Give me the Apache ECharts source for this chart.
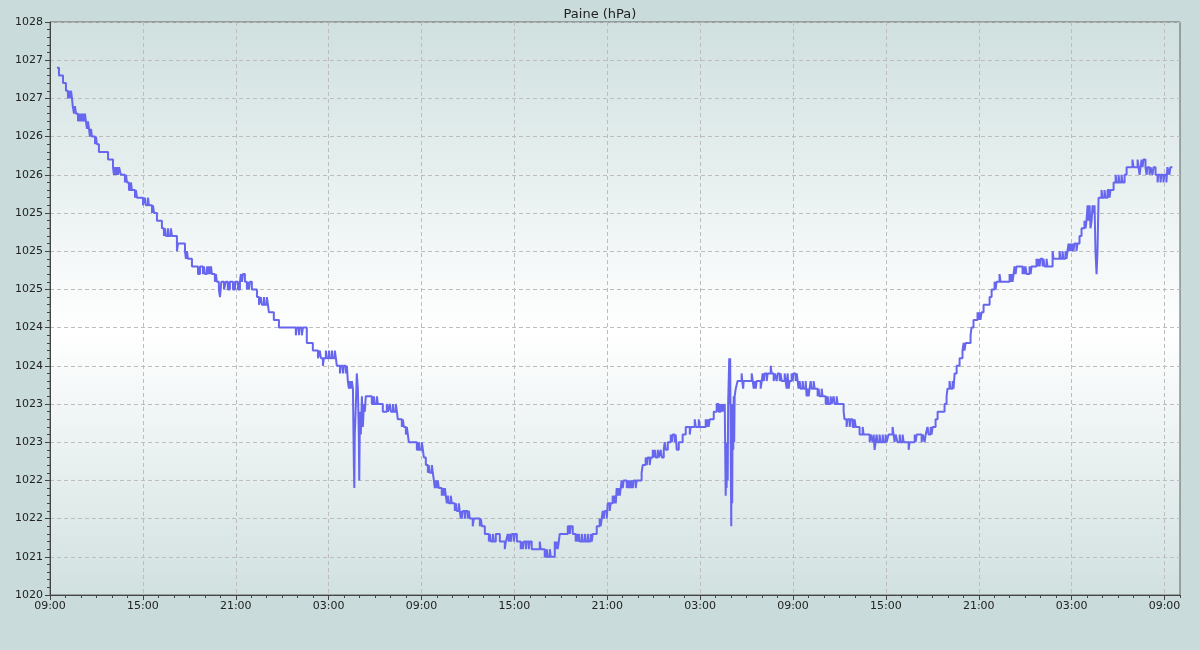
<!DOCTYPE html>
<html><head><meta charset="utf-8">
<script src="https://cdn.jsdelivr.net/npm/echarts@6/dist/echarts.min.js"></script>
<style>html,body{margin:0;padding:0;background:#c9dcdb}#c{width:1200px;height:650px}</style>
</head><body><div id="c"></div>
<script>
// Hours since 09:00 of the first day
const hours = [
0.45,0.58,0.84,1.03,1.16,1.23,1.29,1.36,1.42,1.47,1.55,1.61,1.68,1.81,1.87,1.94,2.00,2.07,2.13,2.20,2.26,2.32,2.39,2.45,2.52,2.58,2.65,2.71,2.91,2.97,3.03,3.16,3.75,4.07,4.13,4.20,4.26,4.33,4.39,4.46,4.58,4.84,4.91,4.97,5.10,5.23,5.29,5.49,5.55,5.62,6.01,6.13,6.20,6.33,6.39,6.59,6.65,6.72,6.91,7.23,7.36,7.43,7.49,7.62,7.68,7.81,7.88,8.20,8.27,8.72,8.78,8.85,8.91,9.17,9.56,9.69,9.88,9.94,10.01,10.14,10.20,10.27,10.33,10.40,10.46,10.65,10.72,10.78,10.91,10.98,11.07,11.24,11.36,11.49,11.62,11.82,11.95,12.14,12.27,12.33,12.40,12.46,12.59,12.72,12.79,12.85,12.91,13.04,13.37,13.50,13.62,13.69,13.82,13.88,14.01,14.08,14.14,14.46,14.79,
15.88,15.95,16.08,16.14,16.27,16.34,16.59,16.98,17.31,17.43,17.50,17.63,17.69,17.82,17.89,18.02,18.08,18.21,18.27,18.40,18.47,18.53,18.73,18.79,18.92,18.98,19.11,19.18,19.24,19.31,19.37,19.44,19.50,19.57,19.63,19.66,19.69,19.76,19.82,19.89,19.95,19.98,20.02,20.08,20.15,20.21,20.28,20.34,20.40,20.79,20.92,20.99,21.12,21.18,21.50,21.76,21.83,21.95,22.02,22.15,22.21,22.34,22.41,22.47,22.73,22.79,22.86,22.99,23.05,23.12,23.18,23.70,23.83,23.89,24.02,24.09,24.15,24.28,24.41,24.47,24.54,24.67,24.73,24.80,24.86,24.93,24.99,25.05,25.12,25.31,25.38,25.44,25.51,25.57,25.64,25.70,25.76,25.89,25.96,26.15,26.22,26.28,26.41,26.47,26.54,26.57,26.60,26.67,26.80,26.86,26.99,27.06,27.12,27.31,27.38,27.77,27.83,27.90,28.09,28.35,28.41,28.48,28.61,28.67,28.80,29.06,29.38,29.45,29.57,29.64,29.70,29.77,29.83,29.96,30.03,30.16,30.41,30.48,30.54,30.61,30.74,30.80,30.93,30.99,31.12,31.64,31.70,31.96,32.09,32.16,32.29,32.35,32.61,32.67,32.74,32.80,32.87,32.93,33.45,33.58,33.64,33.77,33.96,34.03,34.09,34.16,34.22,34.35,34.42,34.55,34.61,34.74,34.80,34.93,35.00,35.06,35.32,35.51,35.58,35.64,35.71,35.77,35.84,35.97,36.03,36.16,36.22,36.35,36.42,36.48,36.55,36.61,36.68,36.74,36.81,36.87,36.93,37.00,37.06,37.26,37.32,37.39,37.45,37.52,37.58,37.65,37.71,37.84,37.90,38.22,38.29,38.48,38.55,38.61,38.74,38.81,38.94,39.00,39.07,39.13,39.26,39.33,39.45,39.52,39.65,39.71,39.78,39.91,40.10,40.17,40.23,40.36,40.42,40.49,40.62,40.87,41.07,41.33,41.39,41.65,41.72,41.91,41.97,42.36,42.43,42.49,42.55,42.62,42.88,43.07,43.20,43.33,43.39,43.46,43.52,43.59,43.65,43.68,43.71,43.75,43.78,43.81,43.88,43.91,43.94,44.01,44.04,44.07,44.10,44.14,44.17,44.20,44.23,44.30,44.42,44.68,44.72,44.78,44.81,45.33,45.40,45.46,45.52,45.59,45.65,45.91,45.98,46.04,46.11,46.17,46.30,46.36,46.56,46.62,46.75,46.82,46.94,47.01,47.14,47.20,47.27,47.46,47.52,47.59,47.65,47.72,47.78,47.91,47.97,48.04,48.17,48.24,48.36,48.43,48.49,48.62,48.69,48.82,48.88,48.95,49.01,49.07,49.14,49.20,49.33,49.40,49.59,49.65,49.72,49.85,49.91,50.11,50.24,50.30,50.43,50.50,50.62,50.69,50.82,50.88,51.27,51.33,51.46,51.53,51.66,51.72,51.85,51.98,52.05,52.30,52.50,52.56,52.95,53.02,53.14,53.21,53.27,53.34,53.40,53.46,53.59,53.66,53.79,53.85,53.98,54.05,54.17,54.43,54.50,54.56,54.63,54.75,54.89,54.95,55.08,55.15,55.47,55.53,55.86,55.92,55.99,56.31,56.38,56.50,56.57,56.69,56.76,56.89,56.95,57.02,57.21,57.34,57.79,57.92,57.98,58.11,58.18,58.31,58.37,58.44,58.57,58.76,58.95,59.02,59.08,59.15,59.47,59.53,59.66,59.92,59.98,60.05,60.11,60.18,60.31,60.70,60.83,61.02,61.09,61.15,61.34,61.41,61.99,62.05,62.12,62.18,62.25,62.31,62.38,62.44,62.83,62.89,62.96,63.02,63.09,63.28,63.35,63.41,63.73,63.80,63.86,63.93,63.99,64.12,64.18,64.25,64.38,64.44,64.77,64.83,65.22,65.28,65.41,65.47,65.60,65.67,65.73,65.80,65.86,65.93,65.99,66.05,66.12,66.18,66.31,66.38,66.51,66.64,66.83,66.90,66.96,67.03,67.09,67.16,67.22,67.29,67.35,67.41,67.48,67.54,67.61,67.67,67.74,67.93,67.99,68.12,68.19,68.32,68.45,68.51,68.71,68.84,68.90,69.03,69.09,69.22,69.29,69.42,69.55,69.93,70.00,70.26,70.32,70.39,70.45,70.52,70.58,70.64,70.77,70.84,70.90,71.03,71.10,71.22,71.29,71.42,71.55,71.61,71.74,71.80,71.93,71.99,72.12,72.19,72.31,72.38,72.51
];
// Pressure readings (hPa)
const pressure = [
1027.4,1027.3,1027.2,1027.1,1027.0,1027.1,1027.0,1027.1,1027.0,1026.9,1026.8,1026.9,1026.8,1026.7,1026.8,1026.7,1026.8,1026.7,1026.8,1026.7,1026.8,1026.7,1026.6,1026.7,1026.6,1026.5,1026.6,1026.5,1026.4,1026.5,1026.4,1026.3,1026.2,1026.1,1026.0,1026.1,1026.0,1026.1,1026.0,1026.1,1026.0,1025.9,1026.0,1025.9,1025.8,1025.9,1025.8,1025.7,1025.8,1025.7,1025.6,1025.7,1025.6,1025.7,1025.6,1025.5,1025.6,1025.5,1025.4,1025.3,1025.2,1025.3,1025.2,1025.3,1025.2,1025.3,1025.2,1025.0,1025.1,1025.0,1024.9,1025.0,1024.9,1024.8,1024.7,1024.8,1024.7,1024.8,1024.7,1024.8,1024.7,1024.8,1024.7,1024.8,1024.7,1024.6,1024.7,1024.6,1024.5,1024.4,1024.6,1024.5,1024.6,1024.5,1024.6,1024.5,1024.6,1024.5,1024.6,1024.7,1024.6,1024.7,1024.6,1024.5,1024.6,1024.5,1024.6,1024.5,1024.4,1024.3,1024.4,1024.3,1024.4,1024.3,1024.4,1024.3,1024.2,1024.1,1024.0,
1023.9,1024.0,1023.9,1024.0,1023.9,1024.0,1023.8,1023.7,1023.6,1023.7,1023.6,1023.5,1023.6,1023.7,1023.6,1023.7,1023.6,1023.7,1023.6,1023.7,1023.6,1023.5,1023.4,1023.5,1023.4,1023.5,1023.4,1023.5,1023.3,1023.2,1023.3,1023.2,1023.3,1023.2,1022.2,1021.9,1022.6,1023.0,1023.4,1023.2,1022.6,1022.0,1022.9,1022.6,1023.1,1022.7,1023.0,1022.9,1023.1,1023.0,1023.1,1023.0,1023.1,1023.0,1022.9,1023.0,1022.9,1023.0,1022.9,1023.0,1022.9,1023.0,1022.9,1022.8,1022.7,1022.8,1022.7,1022.6,1022.7,1022.6,1022.5,1022.4,1022.5,1022.4,1022.5,1022.4,1022.3,1022.2,1022.1,1022.2,1022.1,1022.2,1022.1,1022.0,1021.9,1022.0,1021.9,1022.0,1021.9,1021.8,1021.9,1021.8,1021.9,1021.8,1021.7,1021.8,1021.7,1021.8,1021.7,1021.6,1021.7,1021.6,1021.7,1021.6,1021.5,1021.6,1021.5,1021.6,1021.5,1021.6,1021.5,1021.6,1021.5,1021.4,1021.5,1021.4,1021.5,1021.4,1021.3,1021.2,1021.3,1021.2,1021.3,1021.2,1021.3,1021.2,1021.1,1021.2,1021.3,1021.2,1021.3,1021.2,1021.3,1021.2,1021.3,1021.2,1021.1,1021.2,1021.1,1021.2,1021.1,1021.2,1021.1,1021.2,1021.1,1021.2,1021.1,1021.0,1021.1,1021.0,1021.1,1021.0,1021.2,1021.1,1021.2,1021.1,1021.2,1021.3,1021.4,1021.3,1021.4,1021.3,1021.2,1021.3,1021.2,1021.3,1021.2,1021.3,1021.2,1021.3,1021.2,1021.3,1021.2,1021.3,1021.2,1021.3,1021.4,1021.5,1021.4,1021.5,1021.6,1021.5,1021.6,1021.5,1021.7,1021.6,1021.7,1021.8,1021.7,1021.8,1021.7,1021.9,1021.8,1021.9,1021.8,1021.9,1022.0,1021.9,1022.0,1021.9,1022.0,1021.9,1022.0,1021.9,1022.0,1021.9,1022.0,1021.9,1022.0,1022.1,1022.2,1022.3,1022.2,1022.3,1022.2,1022.3,1022.4,1022.3,1022.4,1022.3,1022.4,1022.3,1022.4,1022.3,1022.4,1022.5,1022.4,1022.5,1022.6,1022.5,1022.6,1022.5,1022.6,1022.4,1022.5,1022.6,1022.7,1022.6,1022.7,1022.8,1022.7,1022.8,1022.7,1022.8,1022.7,1022.8,1022.7,1022.8,1022.9,1023.0,1022.9,1023.0,1022.9,1023.0,1022.9,1023.0,1021.8,1022.2,1021.9,1022.5,1022.0,1023.0,1023.6,1023.0,1023.6,1021.4,1023.0,1021.7,1022.9,1022.4,1023.1,1022.5,1023.1,1023.2,1023.3,1023.4,1023.3,1023.2,1023.3,1023.4,1023.3,1023.2,1023.3,1023.2,1023.3,1023.2,1023.3,1023.4,1023.3,1023.4,1023.3,1023.4,1023.5,1023.4,1023.3,1023.4,1023.3,1023.4,1023.3,1023.4,1023.3,1023.4,1023.3,1023.2,1023.4,1023.2,1023.3,1023.4,1023.3,1023.4,1023.3,1023.4,1023.2,1023.3,1023.2,1023.3,1023.2,1023.3,1023.1,1023.2,1023.1,1023.2,1023.3,1023.2,1023.3,1023.2,1023.1,1023.2,1023.1,1023.2,1023.1,1023.0,1023.1,1023.0,1023.1,1023.0,1023.1,1023.0,1023.1,1023.0,1022.9,1022.8,1022.7,1022.8,1022.7,1022.8,1022.7,1022.8,1022.7,1022.6,1022.7,1022.6,1022.5,1022.6,1022.5,1022.6,1022.4,1022.5,1022.6,1022.5,1022.6,1022.5,1022.6,1022.5,1022.6,1022.5,1022.6,1022.7,1022.6,1022.5,1022.6,1022.5,1022.6,1022.5,1022.6,1022.5,1022.4,1022.5,1022.6,1022.5,1022.6,1022.5,1022.6,1022.5,1022.6,1022.7,1022.6,1022.7,1022.6,1022.7,1022.8,1022.9,1023.0,1023.1,1023.2,1023.3,1023.2,1023.3,1023.2,1023.4,1023.5,1023.6,1023.7,1023.8,1023.7,1023.8,1023.9,1024.0,1024.1,1024.2,1024.1,1024.2,1024.1,1024.2,1024.3,1024.4,1024.5,1024.6,1024.5,1024.6,1024.7,1024.6,1024.7,1024.6,1024.7,1024.6,1024.7,1024.8,1024.7,1024.8,1024.7,1024.8,1024.7,1024.8,1024.7,1024.8,1024.7,1024.8,1024.9,1024.8,1024.9,1024.8,1024.9,1024.8,1024.9,1024.8,1024.9,1024.8,1025.0,1024.9,1025.0,1024.9,1025.0,1024.9,1025.0,1024.9,1025.0,1025.1,1025.0,1025.1,1025.0,1025.1,1025.0,1025.1,1025.0,1025.1,1025.2,1025.3,1025.4,1025.3,1025.4,1025.6,1025.4,1025.6,1025.3,1025.4,1025.6,1025.5,1025.6,1025.0,1024.7,1025.0,1025.7,1025.8,1025.7,1025.8,1025.7,1025.8,1025.7,1025.8,1025.9,1026.0,1025.9,1026.0,1025.9,1026.0,1025.9,1026.0,1026.1,1026.2,1026.1,1026.2,1026.1,1026.0,1026.1,1026.2,1026.1,1026.2,1026.1,1026.0,1026.1,1026.0,1026.1,1026.0,1026.1,1026.0,1025.9,1026.0,1025.9,1026.0,1025.9,1026.0,1025.9,1026.1,1026.0,1026.1,1026.1
];
// Y tick labels, bottom to top (as printed on the original)
const yTickLabels = ['1020','1021','1022','1022','1023','1023','1024','1024','1025','1025','1025','1026','1026','1027','1027','1028'];
const xMajorHours = [0,6,12,18,24,30,36,42,48,54,60,66,72];
const xMinorHours = Array.from({length: 74}, (_, i) => i);
const startHour = 9;

const font = 'DejaVu Sans';
const chart = echarts.init(document.getElementById('c'));
const data = hours.map((h, i) => [h, pressure[i]]);
const fmtX = h => String((startHour + Math.round(h)) % 24).padStart(2, '0') + ':00';

chart.setOption({
  animation: false,
  backgroundColor: '#c9dcdb',
  title: {
    text: 'Paine (hPa)', left: 'center', top: 3,
    textStyle: {fontFamily: font, fontSize: 13, fontWeight: 'normal', color: '#222'}
  },
  grid: {
    left: 50, right: 20, top: 22, bottom: 55, show: true,
    borderColor: '#606060', borderWidth: 1,
    backgroundColor: new echarts.graphic.LinearGradient(0, 0, 0, 1, [
      {offset: 0, color: '#cfe0df'},
      {offset: 0.54, color: '#ffffff'},
      {offset: 1, color: '#d1e1e0'}
    ])
  },
  xAxis: [{
    type: 'value', min: 0, max: 73, interval: 6, position: 'bottom',
    axisLine: {show: true, onZero: false, lineStyle: {color: '#444', width: 1}},
    axisTick: {show: true, length: 5, customValues: xMajorHours, lineStyle: {color: '#444'}},
    axisLabel: {customValues: xMajorHours, formatter: fmtX, fontFamily: font, fontSize: 11, color: '#222', margin: 6},
    splitLine: {show: true, lineStyle: {color: '#bdbdbd', type: [4, 3], width: 1}}
  }, {
    type: 'value', min: 0, max: 73, position: 'bottom',
    axisLine: {show: false},
    axisTick: {show: true, length: 3, customValues: xMinorHours, lineStyle: {color: '#444'}},
    axisLabel: {show: false},
    splitLine: {show: false}
  }],
  yAxis: {
    type: 'value', min: 1020.5, max: 1028, interval: 0.5,
    axisLine: {show: true, onZero: false, lineStyle: {color: '#444', width: 1}},
    axisTick: {show: true, length: 5, lineStyle: {color: '#444'}},
    minorTick: {show: true, splitNumber: 5, length: 3, lineStyle: {color: '#444'}},
    axisLabel: {
      formatter: v => yTickLabels[Math.round((v - 1020.5) / 0.5)] || '',
      fontFamily: font, fontSize: 11, color: '#222', margin: 7
    },
    splitLine: {show: true, lineStyle: {color: '#bdbdbd', type: [4, 3], width: 1}}
  },
  series: [{
    type: 'line', data: data, step: 'end', symbol: 'none', xAxisIndex: 0, yAxisIndex: 0,
    lineStyle: {color: '#6666ee', width: 2}
  }]
});
</script>
</body></html>
